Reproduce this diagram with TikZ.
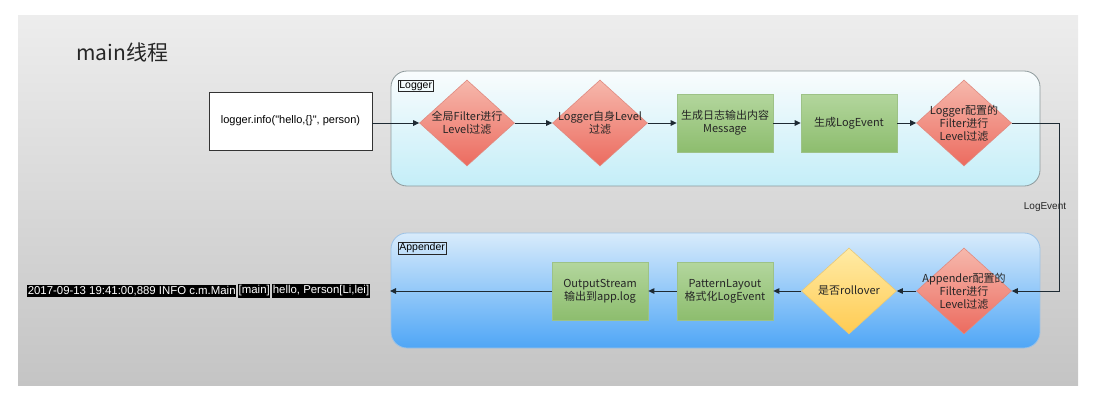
\documentclass[tikz,border=0pt]{standalone}
\usepackage{fontspec}
\setmainfont{Noto Sans CJK SC}
\newfontfamily\latinsans{Liberation Sans}
\usetikzlibrary{shapes.geometric,arrows.meta}
\definecolor{panelTop}{HTML}{EDEDED}
\definecolor{panelBot}{HTML}{C4C4C4}
\definecolor{lgTop}{HTML}{F9FCFD}
\definecolor{lgBot}{HTML}{C4EEF8}
\definecolor{lgLine}{HTML}{8E9A9C}
\definecolor{apTop}{HTML}{D8EBFB}
\definecolor{apBot}{HTML}{4FA6F6}
\definecolor{apLine}{HTML}{9CC2E6}
\definecolor{redTop}{HTML}{F6B8AC}
\definecolor{redBot}{HTML}{EC6B5F}
\definecolor{redLine}{HTML}{E08A80}
\definecolor{grnTop}{HTML}{B3D69D}
\definecolor{grnBot}{HTML}{8DBD6E}
\definecolor{grnLine}{HTML}{9DC287}
\definecolor{yelTop}{HTML}{FFEBA6}
\definecolor{yelBot}{HTML}{FFCB52}
\definecolor{yelLine}{HTML}{E8C877}
\definecolor{ink}{HTML}{1E2A33}
\tikzset{
  x=1pt, y=-1pt,
  txt/.style={font=\fontsize{11}{13}\selectfont, text=black!85, align=center},
  reddia/.style={diamond, txt, draw=redLine, line width=0.6pt, top color=redTop, bottom color=redBot,
    minimum width=95pt, minimum height=86pt, inner sep=-9pt},
  yeldia/.style={diamond, txt, draw=yelLine, line width=0.6pt, top color=yelTop, bottom color=yelBot,
    minimum width=95pt, minimum height=86pt, inner sep=-9pt},
  grnbox/.style={rectangle, txt, draw=grnLine, line width=0.6pt, top color=grnTop, bottom color=grnBot,
    minimum width=96pt, minimum height=58pt, inner sep=1pt},
  callbox/.style={rectangle, draw=black!80, fill=white, line width=0.8pt, minimum width=163pt, minimum height=58pt,
    font=\latinsans\fontsize{11}{13}\selectfont},
  tag/.style={rectangle, draw=black!85, line width=0.7pt, inner sep=1pt, font=\latinsans\fontsize{10.5}{11}\selectfont, anchor=north west},
  arr/.style={-{Triangle[length=6pt,width=5.5pt]}, line width=1pt, draw=ink},
  logseg/.style={fill=black, text=white, inner xsep=0.6pt, inner ysep=1.5pt, font=\latinsans\fontsize{11.4}{12}\selectfont, anchor=east}
}
\begin{document}
\begin{tikzpicture}
\useasboundingbox (0,0) rectangle (1101,415);
% background panel
\path[top color=panelTop, bottom color=panelBot] (18,15) rectangle (1078,385);
\node[anchor=west, font=\fontsize{21}{24}\selectfont, text=black!85] (title) at (73,52) {main线程};
% containers
\path[draw=lgLine, line width=0.8pt, top color=lgTop, bottom color=lgBot, rounded corners=16pt] (391,71) rectangle (1040,186);
\path[draw=apLine, line width=0.8pt, top color=apTop, bottom color=apBot, rounded corners=16pt] (391,233) rectangle (1040,348);
\node[tag] (lgtag) at (398,80) {Logger};
\node[tag] (aptag) at (398,242) {Appender};
% call box
\node[callbox] (call) at (290.5,121) {logger.info("hello,\{\}", person)};
% top row
\node[reddia] (d1) at (467,123) {全局Filter进行\\Level过滤};
\node[reddia] (d2) at (600,123) {Logger自身Level\\过滤};
\node[grnbox] (g1) at (725,123) {生成日志输出内容\\Message};
\node[grnbox] (g2) at (849,123) {生成LogEvent};
\node[reddia] (d3) at (964,123) {Logger配置的\\Filter进行\\Level过滤};
% bottom row
\node[reddia] (d4) at (964,291) {Appender配置的\\Filter进行\\Level过滤};
\node[yeldia] (y1) at (849,291) {是否rollover};
\node[grnbox] (g3) at (725,291) {PatternLayout\\格式化LogEvent};
\node[grnbox] (g4) at (600,291) {OutputStream\\输出到app.log};
% log output text
\node[logseg] (log3) at (370,291) {hello, Person[Li,lei]};
\node[logseg] (log2) at ([xshift=-1.5pt]log3.west) {[main]};
\node[logseg] (log1) at ([xshift=-1.5pt]log2.west) {2017-09-13 19:41:00,889 INFO c.m.Main};
% coordinates
\coordinate (c1) at (1059,123);
\coordinate (c2) at (1059,291);
\coordinate (logend) at (390,291);
% connectors
\draw[arr] (call.east |- d1.west) -- (d1.west);
\draw[arr] (d1.east) -- (d2.west);
\draw[arr] (d2.east) -- (g1.west);
\draw[arr] (g1.east) -- (g2.west);
\draw[arr] (g2.east) -- (d3.west);
\draw[arr] (d3.east) -- (c1) -- node[pos=0.5, xshift=-14pt, font=\latinsans\fontsize{10}{12}\selectfont, text=black!85] (lbl) {LogEvent} (c2) -- (d4.east);
\draw[arr] (d4.west) -- (y1.east);
\draw[arr] (y1.west) -- (g3.east);
\draw[arr] (g3.west) -- (g4.east);
\draw[arr] (g4.west) -- (logend);
\end{tikzpicture}
\end{document}
